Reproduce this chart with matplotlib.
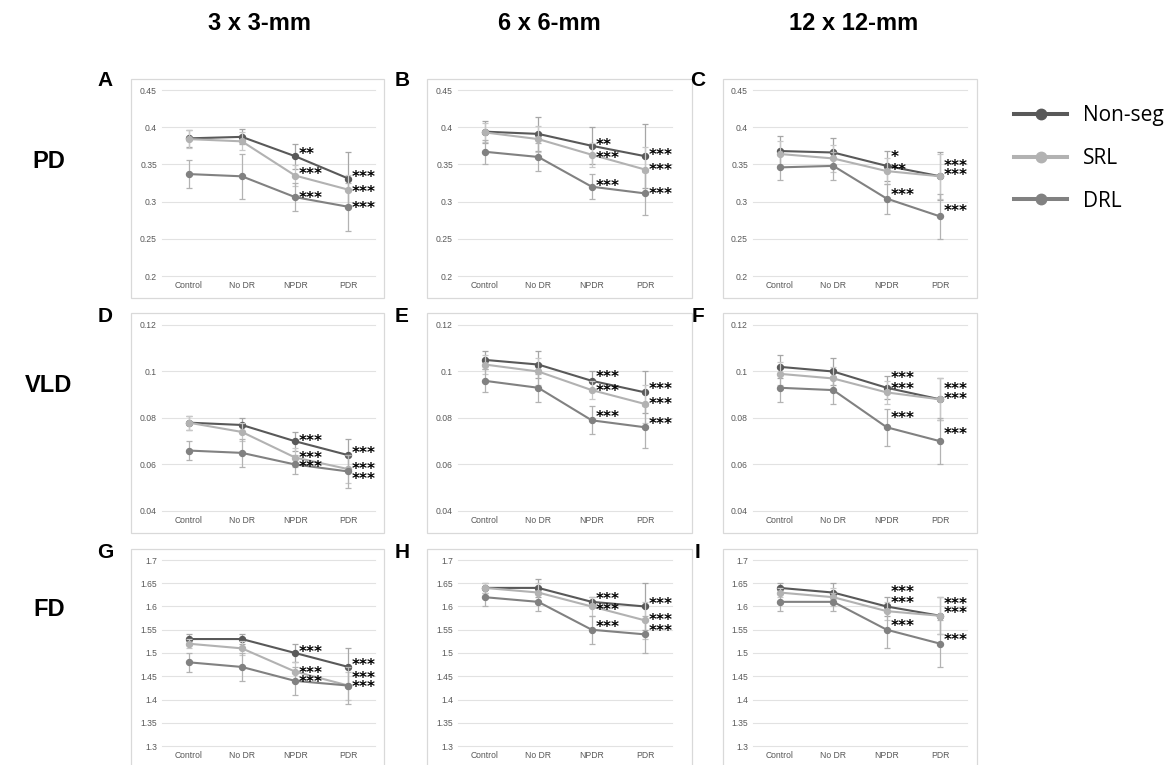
import numpy as np
import matplotlib
matplotlib.use("Agg")
import matplotlib.pyplot as plt
from matplotlib.patches import Rectangle
from matplotlib.lines import Line2D

W, H = 1173, 765

categories = ["Control", "No DR", "NPDR", "PDR"]
series_names = ["Non-seg", "SRL", "DRL"]
column_titles = ["3 x 3-mm", "6 x 6-mm", "12 x 12-mm"]
row_titles = ["PD", "VLD", "FD"]
panel_letters = ["A", "B", "C", "D", "E", "F", "G", "H", "I"]

pd_ticks = [0.2, 0.25, 0.3, 0.35, 0.4, 0.45]
pd_tick_labels = ["0.2", "0.25", "0.3", "0.35", "0.4", "0.45"]
vld_ticks = [0.04, 0.06, 0.08, 0.1, 0.12]
vld_tick_labels = ["0.04", "0.06", "0.08", "0.1", "0.12"]
fd_ticks = [1.3, 1.35, 1.4, 1.45, 1.5, 1.55, 1.6, 1.65, 1.7]
fd_tick_labels = ["1.3", "1.35", "1.4", "1.45", "1.5", "1.55", "1.6", "1.65", "1.7"]

# rows: Non-seg, SRL, DRL ; columns: Control, No DR, NPDR, PDR
A_mean = [[0.385, 0.387, 0.361, 0.331], [0.384, 0.381, 0.335, 0.316], [0.337, 0.334, 0.306, 0.293]]
A_err = [[0.011, 0.010, 0.017, 0.035], [0.012, 0.012, 0.014, 0.020], [0.019, 0.030, 0.019, 0.032]]
B_mean = [[0.394, 0.391, 0.375, 0.361], [0.393, 0.384, 0.363, 0.343], [0.367, 0.360, 0.320, 0.311]]
B_err = [[0.015, 0.023, 0.025, 0.043], [0.013, 0.017, 0.016, 0.030], [0.016, 0.019, 0.017, 0.029]]
C_mean = [[0.368, 0.366, 0.348, 0.334], [0.364, 0.358, 0.341, 0.334], [0.346, 0.348, 0.304, 0.280]]
C_err = [[0.020, 0.020, 0.020, 0.032], [0.018, 0.018, 0.018, 0.030], [0.017, 0.019, 0.020, 0.030]]
D_mean = [[0.078, 0.077, 0.070, 0.064], [0.078, 0.074, 0.063, 0.058], [0.066, 0.065, 0.060, 0.057]]
D_err = [[0.003, 0.003, 0.004, 0.007], [0.003, 0.004, 0.004, 0.006], [0.004, 0.006, 0.004, 0.007]]
E_mean = [[0.105, 0.103, 0.096, 0.091], [0.103, 0.100, 0.092, 0.086], [0.096, 0.093, 0.079, 0.076]]
E_err = [[0.004, 0.006, 0.004, 0.009], [0.004, 0.006, 0.004, 0.008], [0.005, 0.006, 0.006, 0.009]]
F_mean = [[0.102, 0.100, 0.093, 0.088], [0.099, 0.097, 0.091, 0.088], [0.093, 0.092, 0.076, 0.070]]
F_err = [[0.005, 0.006, 0.005, 0.009], [0.005, 0.005, 0.005, 0.009], [0.006, 0.006, 0.008, 0.010]]
G_mean = [[1.53, 1.53, 1.50, 1.47], [1.52, 1.51, 1.46, 1.43], [1.48, 1.47, 1.44, 1.43]]
G_err = [[0.01, 0.01, 0.02, 0.04], [0.01, 0.015, 0.02, 0.03], [0.02, 0.03, 0.03, 0.04]]
H_mean = [[1.64, 1.64, 1.61, 1.60], [1.64, 1.63, 1.60, 1.57], [1.62, 1.61, 1.55, 1.54]]
H_err = [[0.01, 0.02, 0.01, 0.05], [0.01, 0.02, 0.02, 0.04], [0.02, 0.02, 0.03, 0.04]]
I_mean = [[1.64, 1.63, 1.60, 1.58], [1.63, 1.62, 1.59, 1.58], [1.61, 1.61, 1.55, 1.52]]
I_err = [[0.01, 0.02, 0.02, 0.04], [0.01, 0.02, 0.02, 0.04], [0.02, 0.02, 0.04, 0.05]]

# significance marks at NPDR and PDR, per series
stars_AB = [["**", "***"], ["***", "***"], ["***", "***"]]
stars_C = [["*", "***"], ["**", "***"], ["***", "***"]]
stars_all = [["***", "***"], ["***", "***"], ["***", "***"]]

panel_means = [A_mean, B_mean, C_mean, D_mean, E_mean, F_mean, G_mean, H_mean, I_mean]
panel_errs = [A_err, B_err, C_err, D_err, E_err, F_err, G_err, H_err, I_err]
panel_stars = [stars_AB, stars_AB, stars_C, stars_all, stars_all, stars_all, stars_all, stars_all, stars_all]
row_ticks = [(pd_ticks, pd_tick_labels), (vld_ticks, vld_tick_labels), (fd_ticks, fd_tick_labels)]

# ---- layout / style ----
line_colors = ["#595959", "#b2b2b2", "#818181"]
err_colors = ["#a6a6a6", "#c8c8c8", "#b3b3b3"]
col_plot_x = [(162, 375), (458, 672), (753, 967)]
row_plot_y = [(90, 276), (325, 511), (560, 746)]
col_box_x = [(131, 384), (427, 692), (723, 977)]
row_box_y = [(79, 298), (313, 533), (549, 780)]
letter_x = [105, 402, 698]
letter_y = [80, 316, 552]
col_title_x = [260, 549, 854]
# vertical lift (px) of star labels: [series][NPDR, PDR]
star_lift = [
    [[6, 5], [5, 1], [3, 2]],
    [[4, 5], [0, 3], [4, 3]],
    [[12, 14], [4, 5], [7, 9]],
    [[4, 6], [3, 4], [1, -4]],
    [[7, 7], [3, 3], [7, 7]],
    [[13, 14], [7, 4], [13, 11]],
    [[4, 5], [2, 11], [2, 2]],
    [[6, 6], [0, 4], [6, 7]],
    [[18, 15], [12, 6], [7, 7]],
]
star_fs = 11
PX = 72 / 100.0

fig = plt.figure(figsize=(W / 100, H / 100), dpi=100)
fig.patch.set_facecolor("white")

for r in range(3):
    for c in range(3):
        k = r * 3 + c
        bx0, bx1 = col_box_x[c]
        by0, by1 = row_box_y[r]
        fig.patches.append(Rectangle((bx0 / W, 1 - by1 / H), (bx1 - bx0) / W, (by1 - by0) / H,
                                     transform=fig.transFigure, fill=False,
                                     edgecolor="#d9d9d9", lw=0.9, zorder=0))
        x0, x1 = col_plot_x[c]
        y0, y1 = row_plot_y[r]
        ax = fig.add_axes([x0 / W, 1 - y1 / H, (x1 - x0) / W, (y1 - y0) / H])
        ax.set_facecolor("none")
        xs = np.arange(len(categories))
        means = panel_means[k]
        errs = panel_errs[k]
        for s in range(len(series_names)):
            ax.errorbar(xs, means[s], yerr=errs[s], color=line_colors[s], lw=1.5,
                        marker="o", ms=4.3, mec=line_colors[s], mfc=line_colors[s],
                        ecolor=err_colors[s], elinewidth=0.9, capsize=2.2, capthick=0.9,
                        zorder=3 + s)
        for s in range(len(series_names)):
            for j, ci in enumerate([2, 3]):
                lift = star_lift[k][s][j]
                ax.annotate(panel_stars[k][s][j], xy=(xs[ci], means[s][ci]),
                            xytext=(3.5 * PX, lift * PX - 0.55 * star_fs),
                            textcoords="offset points", ha="left", va="baseline",
                            fontsize=star_fs, fontweight="bold", color="black",
                            family="DejaVu Sans", annotation_clip=False, zorder=10)
        ticks, labels = row_ticks[r]
        ax.set_xlim(-0.5, len(categories) - 0.5)
        ax.set_ylim(ticks[0], ticks[-1])
        ax.set_yticks(ticks, labels)
        ax.set_xticks(xs, categories)
        ax.grid(axis="y", color="#e2e2e2", lw=0.8)
        ax.set_axisbelow(True)
        for gl in ax.get_ygridlines():
            gl.set_clip_on(False)
        for sp in ax.spines.values():
            sp.set_visible(False)
        ax.tick_params(axis="both", length=0, labelsize=6.2, colors="#595959", pad=3.6)
        for lab in ax.get_xticklabels() + ax.get_yticklabels():
            lab.set_family("Liberation Sans")
        fig.text(letter_x[c] / W, 1 - letter_y[r] / H, panel_letters[k], ha="center", va="center",
                 fontsize=15, fontweight="bold", family="Liberation Sans")

for c in range(3):
    fig.text(col_title_x[c] / W, 1 - 23 / H, column_titles[c], ha="center", va="center",
             fontsize=17, fontweight="bold", family="Liberation Sans")

for r, yy in enumerate([162, 385, 610]):
    fig.text(49 / W, 1 - yy / H, row_titles[r], ha="center", va="center",
             fontsize=17, fontweight="bold", family="Liberation Sans")

handles = [Line2D([], [], color=line_colors[s], lw=2.9, marker="o", ms=7.5,
                  mfc=line_colors[s], mec=line_colors[s]) for s in range(3)]
fig.legend(handles, series_names, loc="upper left", bbox_to_anchor=(1014 / W, 1 - 105 / H),
           frameon=False, prop={"family": "Open Sans", "size": 15},
           handlelength=2.55, handletextpad=0.77, labelspacing=1.05, borderaxespad=0, borderpad=0)

fig.savefig("out.png", dpi=100, facecolor="white")
